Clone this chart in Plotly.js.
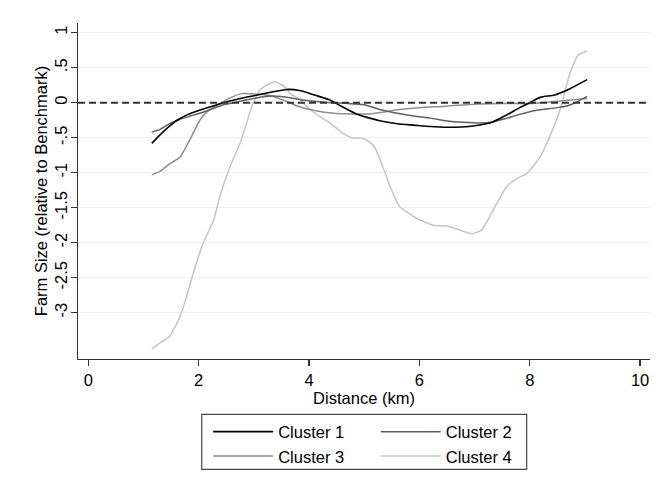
<!DOCTYPE html>
<html>
<head>
<meta charset="utf-8">
<script src="https://cdn.plot.ly/plotly-3.0.1.min.js"></script>
<style>
  html, body { margin: 0; padding: 0; background: #ffffff; }
  #chart { width: 660px; height: 487px; }
</style>
</head>
<body>
<div id="chart"></div>
<script>
// ---- data ----
const seriesNames = ["Cluster 1", "Cluster 2", "Cluster 3", "Cluster 4"];

const c1x = [1.15, 1.3, 1.45, 1.63, 1.8, 2.0, 2.2, 2.45, 2.7, 3.0, 3.3, 3.6, 3.85, 4.1, 4.38, 4.56, 4.86, 5.1, 5.3, 5.6, 5.9, 6.2, 6.5, 6.9, 7.28, 7.45, 7.64, 7.82, 8.0, 8.2, 8.45, 8.73, 9.04];
const c1y = [-0.58, -0.46, -0.35, -0.24, -0.17, -0.11, -0.06, 0.0, 0.05, 0.10, 0.15, 0.19, 0.17, 0.11, 0.04, -0.04, -0.16, -0.22, -0.26, -0.30, -0.32, -0.34, -0.35, -0.34, -0.29, -0.23, -0.15, -0.07, 0.0, 0.08, 0.11, 0.20, 0.33];

const c2x = [1.15, 1.3, 1.45, 1.65, 1.85, 2.1, 2.45, 2.8, 3.2, 3.5, 3.8, 4.1, 4.4, 4.7, 5.0, 5.3, 5.6, 5.9, 6.2, 6.5, 6.8, 7.1, 7.3, 7.55, 7.8, 8.1, 8.3, 8.5, 8.7, 8.85, 9.04];
const c2y = [-0.42, -0.38, -0.31, -0.24, -0.19, -0.13, -0.03, 0.03, 0.09, 0.09, 0.05, 0.02, 0.0, -0.01, -0.03, -0.10, -0.15, -0.19, -0.22, -0.26, -0.28, -0.29, -0.28, -0.23, -0.17, -0.11, -0.09, -0.07, -0.04, 0.01, 0.09];

const c3x = [1.15, 1.3, 1.48, 1.66, 1.84, 2.02, 2.15, 2.39, 2.6, 2.78, 3.1, 3.3, 3.53, 3.84, 4.1, 4.44, 4.8, 5.1, 5.3, 5.6, 6.0, 6.5, 7.0, 7.5, 8.0, 8.6, 9.04];
const c3y = [-1.03, -0.98, -0.87, -0.78, -0.53, -0.25, -0.13, -0.01, 0.08, 0.13, 0.12, 0.10, 0.04, -0.06, -0.11, -0.15, -0.16, -0.16, -0.14, -0.10, -0.07, -0.05, -0.02, -0.01, -0.01, 0.03, 0.06];

const c4x = [1.15, 1.3, 1.47, 1.66, 1.78, 1.9, 2.08, 2.27, 2.39, 2.57, 2.75, 2.87, 2.96, 3.11, 3.23, 3.38, 3.54, 3.66, 3.84, 4.02, 4.2, 4.38, 4.62, 4.78, 4.98, 5.11, 5.2, 5.29, 5.38, 5.47, 5.65, 5.95, 6.25, 6.5, 6.74, 6.95, 7.13, 7.34, 7.58, 7.77, 7.95, 8.19, 8.37, 8.55, 8.73, 8.88, 9.04];
const c4y = [-3.52, -3.43, -3.34, -3.06, -2.77, -2.44, -2.01, -1.68, -1.32, -0.91, -0.58, -0.29, -0.06, 0.18, 0.25, 0.30, 0.24, 0.13, 0.04, -0.10, -0.20, -0.29, -0.44, -0.50, -0.51, -0.57, -0.65, -0.82, -1.00, -1.20, -1.49, -1.65, -1.75, -1.76, -1.82, -1.87, -1.82, -1.53, -1.20, -1.08, -1.01, -0.77, -0.47, -0.10, 0.42, 0.68, 0.74];

const xTickVals = [0, 2, 4, 6, 8, 10];
const xTickText = ["0", "2", "4", "6", "8", "10"];
const yTickVals = [1, 0.5, 0, -0.5, -1, -1.5, -2, -2.5, -3];
const yTickText = ["1", ".5", "0", "-.5", "-1", "-1.5", "-2", "-2.5", "-3"];

const benchmark = 0;

// ---- styles ----
const FONT = "Liberation Sans, Arial, sans-serif";
const colors = ["#000000", "#606060", "#8e8e8e", "#c4c4c4"];
const widths = [1.6, 1.5, 1.5, 1.5];
const legendIds = ["legend", "legend2", "legend", "legend2"];
const xs = [c1x, c2x, c3x, c4x];
const ys = [c1y, c2y, c3y, c4y];

const traces = seriesNames.map((name, i) => ({
  type: "scatter",
  mode: "lines",
  name: name,
  x: xs[i],
  y: ys[i],
  line: { color: colors[i], width: widths[i], shape: "spline", smoothing: 0.5 },
  legend: legendIds[i],
  legendrank: i + 1,
  hoverinfo: "skip"
}));
// draw lighter lines first so black is on top
const ordered = [traces[3], traces[2], traces[1], traces[0]];

const legendCommon = {
  orientation: "v",
  bgcolor: "rgba(0,0,0,0)",
  borderwidth: 0,
  font: { family: FONT, size: 16.5, color: "#000000" },
  itemwidth: 60,
  traceorder: "normal",
  xanchor: "left",
  yanchor: "top",
  y: -0.165
};

const layout = {
  width: 660,
  height: 487,
  margin: { l: 78, r: 10, t: 23, b: 128 },
  paper_bgcolor: "#ffffff",
  plot_bgcolor: "#ffffff",
  font: { family: FONT, size: 16.5, color: "#000000" },
  showlegend: true,
  legend: Object.assign({}, legendCommon, { x: 0.2275 }),
  legend2: Object.assign({}, legendCommon, { x: 0.5205 }),
  xaxis: {
    range: [-0.187, 10.18],
    tickvals: xTickVals,
    ticktext: xTickText,
    ticks: "outside",
    ticklen: 6,
    tickwidth: 1.2,
    tickcolor: "#333333",
    showline: true,
    linecolor: "#333333",
    linewidth: 1.3,
    showgrid: false,
    zeroline: false,
    tickfont: { family: FONT, size: 16.5, color: "#000000" },
    title: { text: "Distance (km)", font: { family: FONT, size: 16.5, color: "#000000" }, standoff: 2 },
    automargin: false,
    fixedrange: true
  },
  yaxis: {
    range: [-3.661, 1.139],
    tickvals: yTickVals,
    ticktext: yTickText,
    tickangle: -90,
    ticks: "outside",
    ticklen: 6,
    tickwidth: 1.2,
    tickcolor: "#333333",
    ticklabelstandoff: -3,
    showline: true,
    linecolor: "#333333",
    linewidth: 1.3,
    showgrid: true,
    gridcolor: "#eaf2f3",
    gridwidth: 1.5,
    zeroline: false,
    tickfont: { family: FONT, size: 16.5, color: "#000000" },
    title: { text: "Farm Size (relative to Benchmark)", font: { family: FONT, size: 16.5, color: "#000000" }, standoff: 0 },
    automargin: false,
    fixedrange: true
  },
  shapes: [
    {
      type: "line", xref: "paper", yref: "y",
      x0: 0, x1: 1, y0: benchmark, y1: benchmark,
      line: { color: "#333333", width: 1.8, dash: "7px,4px" }
    },
    {
      type: "rect", xref: "paper", yref: "paper",
      x0: 0.2163, x1: 0.7844, y0: -0.3283, y1: -0.1646,
      line: { color: "#4a4a4a", width: 1.2 },
      fillcolor: "rgba(0,0,0,0)"
    }
  ]
};

Plotly.newPlot("chart", ordered, layout, { staticPlot: true, displayModeBar: false });
</script>
</body>
</html>
